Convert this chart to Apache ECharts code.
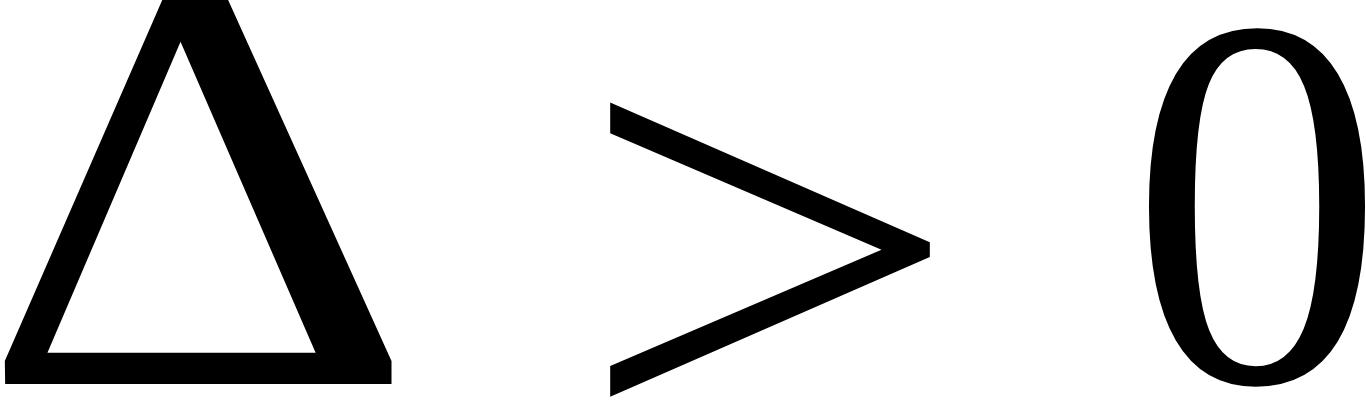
<!DOCTYPE html>
<html>
<head>
<meta charset="utf-8">
<script src="https://cdn.jsdelivr.net/npm/echarts@6/dist/echarts.min.js"></script>
<style>
  html, body { margin: 0; padding: 0; background: #fff; }
  #formula { width: 1366px; height: 402px; }
</style>
</head>
<body>
<div id="formula"></div>
<script>
// 수식 기호: Δ > 0
const glyphs = ["Δ", ">", "0"];

var chart = echarts.init(document.getElementById("formula"));

// 기호마다 위치와 크기 (픽셀)
var layout = [
  { x: 198, y: 230, size: 586, sx: 1.163 },
  { x: 769, y: 292, size: 610, sx: 1.126 },
  { x: 1257, y: 242, size: 531, sx: 0.96 },
];

var option = {
  backgroundColor: "#ffffff",
  graphic: glyphs.map(function (g, i) {
    var p = layout[i];
    return {
      type: "text",
      x: p.x,
      y: p.y,
      scaleX: p.sx,
      style: {
        text: g,
        x: 0,
        y: 0,
        fill: "#000000",
        font: p.size + "px 'Liberation Serif'",
        align: "center",
        verticalAlign: "middle",
      },
    };
  }),
};

chart.setOption(option);
window.onresize = chart.resize;
</script>
</body>
</html>
